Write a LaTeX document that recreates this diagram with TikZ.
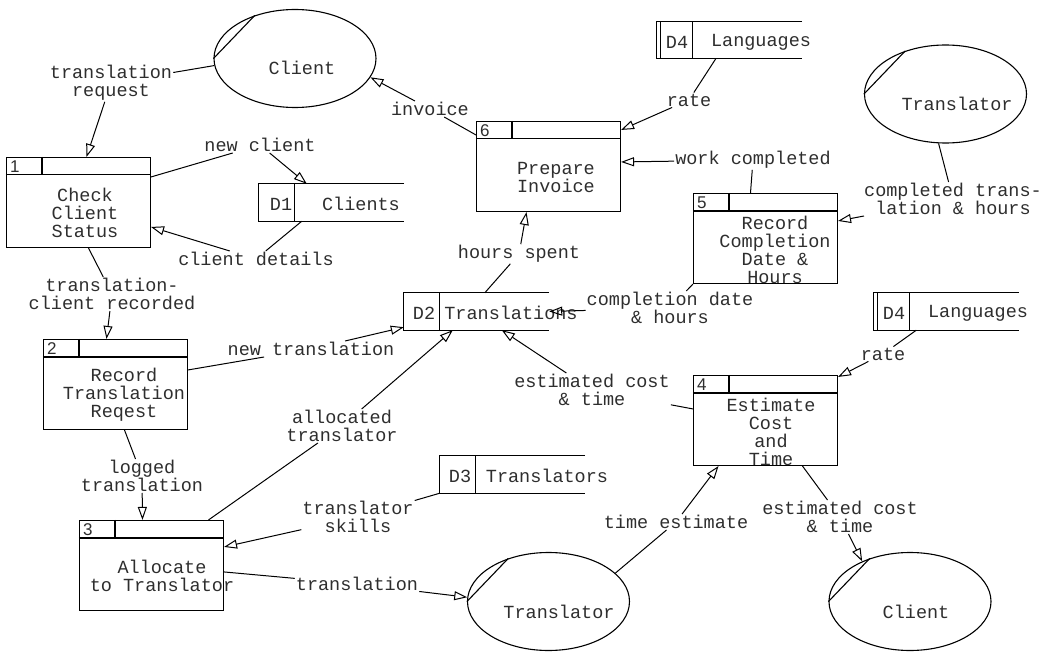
\documentclass[tikz,border=0pt]{standalone}
\usepackage{fontspec}
\setmonofont{Liberation Mono}
\newfontfamily\numfont{Liberation Sans}
\usetikzlibrary{arrows.meta,shapes.geometric,calc}
\definecolor{ink}{HTML}{2E2E2E}
\newcommand{\dfdfont}{\ttfamily\fontsize{18.5}{18}\selectfont}
\tikzset{
  boxline/.style={draw=black,line width=1.1pt},
  proc/.style={boxline,rectangle,minimum width=144pt,minimum height=90pt,inner sep=0pt},
  store/.style={rectangle,minimum width=145pt,minimum height=37pt,inner sep=0pt},
  entity/.style={boxline,ellipse,minimum width=162pt,minimum height=98pt,inner sep=0pt},
  txt/.style={font=\dfdfont,text=ink,align=center,inner sep=1pt},
  num/.style={font=\numfont\fontsize{17}{17}\selectfont,text=ink,anchor=west,inner sep=0pt},
  link/.style={line width=1pt,draw=black},
  flow/.style={link,-{Triangle[open,length=13pt,width=9pt]}},
}

\begin{document}
\begin{tikzpicture}[x=1pt,y=-1pt]
  \useasboundingbox (0,0) rectangle (1047,658);
  % processes
  \node[proc] (p1) at (78.5,202.5) {};
  \node[proc] (p2) at (115.5,384.5) {};
  \node[proc] (p3) at (151.5,565.5) {};
  \node[proc] (p4) at (765.5,420.5) {};
  \node[proc] (p5) at (765.5,238.5) {};
  \node[proc] (p6) at (548.5,166.5) {};
  \foreach \b/\n in {p1/1,p2/2,p3/3,p4/4,p5/5,p6/6}{
    \draw[boxline] ([yshift=-18pt]\b.north west) -- ([yshift=-18pt]\b.north east);
    \draw[boxline] ([xshift=36pt]\b.north west) -- ([xshift=36pt,yshift=-18pt]\b.north west);
    \node[num] (\b-n) at ([xshift=4pt,yshift=-9.5pt]\b.north west) {\n};
  }
  \node[txt] (p1-t) at (85,213) {Check\\Client\\Status};
  \node[txt] (p2-t) at (124,395) {Record\\Translation\\Reqest};
  \node[txt] (p3-t) at (162,576) {Allocate\\to Translator};
  \node[txt] (p4-t) at (771,431.5) {Estimate\\Cost\\and\\Time};
  \node[txt] (p5-t) at (775,249.5) {Record\\Completion\\Date \&\\Hours};
  \node[txt] (p6-t) at (556,177) {Prepare\\Invoice};
  % external entities
  \node[entity] (c1) at (295,58.5) {};
  \node[entity] (t1) at (945.5,94) {};
  \node[entity] (t2) at (548.5,601.5) {};
  \node[entity] (c2) at (910,601.5) {};
  \foreach \e in {c1,t1,t2,c2} \draw[boxline] (\e.west) -- (\e.133);
  \node[txt] (c1-t) at (302,68) {Client};
  \node[txt] (t1-t) at (957,104) {Translator};
  \node[txt] (t2-t) at (559,612) {Translator};
  \node[txt] (c2-t) at (916,612) {Client};
  % data stores
  \node[store] (d1) at (331.5,202.5) {};
  \node[store] (d2) at (476.5,311.5) {};
  \node[store] (d3) at (512.5,474.5) {};
  \node[store] (d4a) at (729.5,40) {};
  \node[store] (d4b) at (946,311.5) {};
  \foreach \s in {d1,d2,d3,d4a,d4b}{
    \draw[boxline] (\s.north east) -- (\s.north west) -- (\s.south west) -- (\s.south east);
    \draw[boxline] ([xshift=36pt]\s.north west) -- ([xshift=36pt]\s.south west);
  }
  \foreach \s in {d4a,d4b} \draw[boxline] ([xshift=4pt]\s.north west) -- ([xshift=4pt]\s.south west);
  \node[txt] (d1-id) at (281,204) {D1};
  \node[txt] (d1-t) at (361,204) {Clients};
  \node[txt] (d2-id) at (424,313) {D2};
  \node[txt] (d2-t) at (511,313) {Translations};
  \node[txt] (d3-id) at (460,476) {D3};
  \node[txt] (d3-t) at (547,476) {Translators};
  \node[txt] (d4a-id) at (677,42) {D4};
  \node[txt] (d4a-t) at (761,42) {Languages};
  \node[txt] (d4b-id) at (894,313) {D4};
  \node[txt] (d4b-t) at (978,313) {Languages};
  % flow labels
  \node[txt] (l1) at (111,83) {translation\\request};
  \node[txt] (l2) at (260,145) {new client};
  \node[txt] (l3) at (256,259) {client details};
  \node[txt] (l4) at (112,294) {translation-\\client recorded};
  \node[txt] (l5) at (311,349) {new translation};
  \node[txt] (l6) at (342,426) {allocated\\translator};
  \node[txt] (l7) at (142,476) {logged\\translation};
  \node[txt] (l8) at (358,517) {translator\\skills};
  \node[txt] (l9) at (357,584) {translation};
  \node[txt] (l10) at (676,522) {time estimate};
  \node[txt] (l11) at (592,390) {estimated cost\\\& time};
  \node[txt] (l12) at (883,354) {rate};
  \node[txt] (l13) at (840,517) {estimated cost\\\& time};
  \node[txt] (l14) at (953,199) {completed trans-\\lation \& hours};
  \node[txt] (l15) at (670,308) {completion date\\\& hours};
  \node[txt] (l16) at (753,160) {work completed};
  \node[txt] (l17) at (689,100) {rate};
  \node[txt] (l18) at (430,109) {invoice};
  \node[txt] (l19) at (519,254) {hours spent};
  % flows
  \draw[link] (c1.185) -- (l1); \draw[flow] (l1) -- ([xshift=8pt]p1.north);
  \draw[link] ([yshift=-20pt]p1.north east) -- (l2); \draw[flow] (l2) -- ([xshift=48pt]d1.north west);
  \draw[link] ([xshift=43pt]d1.south west) -- (l3); \draw[flow] (l3) -- ([yshift=-70pt]p1.north east);
  \draw[link] ([xshift=10pt]p1.south) -- (l4); \draw[flow] (l4) -- ([xshift=-9pt]p2.north);
  \draw[link] ([yshift=-31pt]p2.north east) -- (l5); \draw[flow] (l5) -- ([yshift=3pt]d2.south west);
  \draw[link] ([xshift=57pt]p3.north) -- (l6); \draw[flow] (l6) -- ([xshift=49pt]d2.south west);
  \draw[link] ([xshift=9pt]p2.south) -- (l7); \draw[flow] (l7) -- ([xshift=-9pt]p3.north);
  \draw[link] (d3.south west) -- (l8); \draw[flow] (l8) -- ([yshift=-27pt]p3.north east);
  \draw[link] ([yshift=-52pt]p3.north east) -- (l9); \draw[flow] (l9) -- (t2.177);
  \draw[link] (t2.23) -- (l10); \draw[flow] (l10) -- ([xshift=-47pt]p4.south);
  \draw[link] ([yshift=-34pt]p4.north west) -- (l11); \draw[flow] (l11) -- ([xshift=98pt]d2.south west);
  \draw[link] ([xshift=43pt]d4b.south west) -- (l12); \draw[flow] (l12) -- ([yshift=-2pt]p4.north east);
  \draw[link] ([xshift=37pt]p4.south) -- (l13); \draw[flow] (l13) -- (c2.140);
  \draw[link] (t1.262) -- (l14); \draw[flow] (l14) -- ([yshift=-28pt]p5.north east);
  \draw[link] (p5.south west) -- (l15); \draw[flow] (l15) -- (d2.east);
  \draw[link] ([xshift=-15pt]p5.north) -- (l16); \draw[flow] (l16) -- ([yshift=-41pt]p6.north east);
  \draw[link] ([xshift=59pt]d4a.south west) -- (l17); \draw[flow] (l17) -- ([yshift=-9pt]p6.north east);
  \draw[link] ([yshift=-14pt]p6.north west) -- (l18); \draw[flow] (l18) -- (c1.346);
  \draw[link] ([xshift=81pt]d2.north west) -- (l19); \draw[flow] (l19) -- ([xshift=-22pt]p6.south);
\end{tikzpicture}
\end{document}
